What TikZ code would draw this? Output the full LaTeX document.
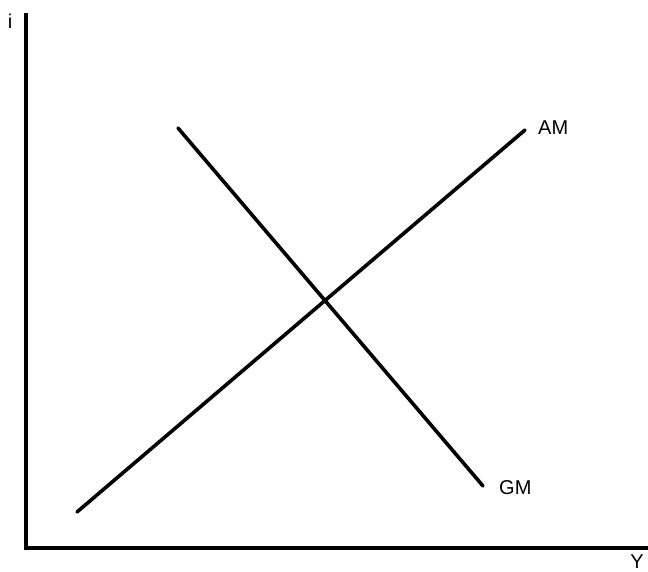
\documentclass[tikz,border=0pt]{standalone}
\usepackage{fontspec}
\setmainfont{Liberation Sans}
\usetikzlibrary{positioning}

\begin{document}
\begin{tikzpicture}[
  x=1pt, y=-1pt,
  font=\fontsize{20}{24}\selectfont,
  curve/.style={line width=3.6pt, line cap=round},
  axisline/.style={line width=3.4pt},
  lbl/.style={inner sep=0pt}
]
\useasboundingbox (0,0) rectangle (648,572);
% axes
\coordinate (top) at (26,13);
\coordinate (origin) at (26,548);
\coordinate (right) at (648,548);
\draw[axisline] (top) -- (origin) -- (right);
\node[lbl] (ilabel) at (10,21) {i};
\node[lbl, anchor=north] (ylabel) at (637,555) {Y};
% curves
\coordinate (am-low) at (77,512);
\coordinate (am-high) at (525,130);
\coordinate (gm-high) at (178,128);
\coordinate (gm-low) at (483,486);
\draw[curve] (am-low) -- (am-high);
\draw[curve] (gm-high) -- (gm-low);
\node[lbl, anchor=west] (amlabel) at (538,128) {AM};
\node[lbl, anchor=west] (gmlabel) at (499,488) {GM};
\end{tikzpicture}
\end{document}
